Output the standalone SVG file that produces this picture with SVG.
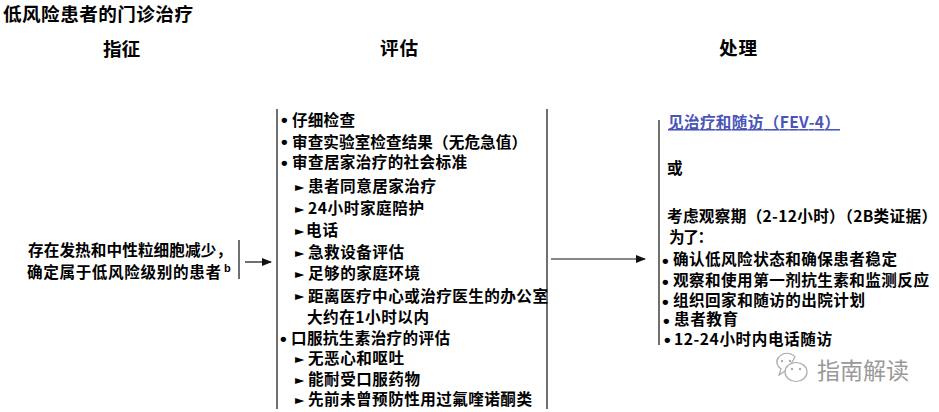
<svg xmlns="http://www.w3.org/2000/svg" width="939" height="412" viewBox="0 0 939 412">
<defs>
<marker id="ah" viewBox="0 0 10 8" refX="9" refY="4" markerWidth="10" markerHeight="8" markerUnits="userSpaceOnUse" orient="auto"><path d="M0 0L10 4L0 8Z" fill="#111"/></marker>
</defs>
<style>
text{font-family:"Noto Sans CJK SC","Liberation Sans",sans-serif;font-weight:700;font-size:15.6px;fill:#000}
.h{font-size:18.6px}
.b{font-family:"Liberation Sans",sans-serif;font-size:19px}
.s{font-family:"DejaVu Sans",sans-serif;font-size:12px;font-weight:400}
.wm{font-weight:400;font-size:23px;fill:#999}
.ln{stroke:#222;stroke-width:1.3;fill:none}
.ar{stroke:#111;stroke-width:1.2;fill:none;marker-end:url(#ah)}
.ic{fill:#fff;stroke:#aaa;stroke-width:1.2}
</style>
<rect width="939" height="412" fill="#fff"/>
<g id="connectors">
<path class="ln" d="M239 240V279"/>
<path class="ar" d="M245 262H271"/>
<path class="ln" d="M277 109V409"/>
<path class="ln" d="M547 109V409"/>
<path class="ar" d="M551 259H645"/>
<path class="ln" d="M659 120V345"/>
</g>
<g id="title"><text class="h" x="3" y="21" textLength="190">低风险患者的门诊治疗</text></g>
<g id="head-indication"><text class="h" x="103" y="56" textLength="37">指征</text></g>
<g id="head-evaluation"><text class="h" x="380" y="55" textLength="38">评估</text></g>
<g id="head-treatment"><text class="h" x="719" y="55" textLength="38">处理</text></g>
<g id="node-indication">
<text x="28" y="256" textLength="204">存在发热和中性粒细胞减少，</text>
<text x="27" y="278" textLength="194">确定属于低风险级别的患者</text>
<text x="224" y="272" style="font-size:11px;font-family:'Liberation Sans',sans-serif">b</text>
</g>
<g id="node-evaluation">
<text class="b" x="281" y="126">•</text><text x="292" y="126" textLength="63">仔细检查</text>
<text class="b" x="281" y="148">•</text><text x="292" y="148" textLength="235">审查实验室检查结果（无危急值）</text>
<text class="b" x="281" y="169">•</text><text x="292" y="168" textLength="175">审查居家治疗的社会标准</text>
<text class="s" x="295" y="191">►</text><text x="308" y="192" textLength="128">患者同意居家治疗</text>
<text class="s" x="295" y="213">►</text><text x="308" y="214" textLength="116">24小时家庭陪护</text>
<text class="s" x="295" y="235">►</text><text x="306" y="236" textLength="32">电话</text>
<text class="s" x="295" y="257">►</text><text x="308" y="258" textLength="96">急救设备评估</text>
<text class="s" x="295" y="278">►</text><text x="308" y="279" textLength="112">足够的家庭环境</text>
<text class="s" x="295" y="300">►</text><text x="308" y="302" textLength="240">距离医疗中心或治疗医生的办公室</text>
<text x="307" y="323" textLength="122">大约在1小时以内</text>
<text class="b" x="280" y="345">•</text><text x="291" y="344" textLength="159">口服抗生素治疗的评估</text>
<text class="s" x="295" y="363">►</text><text x="308" y="364" textLength="96">无恶心和呕吐</text>
<text class="s" x="295" y="384">►</text><text x="308" y="385" textLength="112">能耐受口服药物</text>
<text class="s" x="295" y="404">►</text><text x="308" y="405" textLength="224">先前未曾预防性用过氟喹诺酮类</text>
</g>
<g id="node-treatment">
<text x="668" y="128" textLength="172" style="fill:#4a55b8;text-decoration:underline">见治疗和随访（FEV-4）</text>
<text x="667" y="174">或</text>
<text x="667" y="222" textLength="270">考虑观察期（2-12小时）（2B类证据）</text>
<text x="669" y="243" textLength="44">为了：</text>
<text class="b" x="662" y="267">•</text><text x="673" y="265" textLength="224">确认低风险状态和确保患者稳定</text>
<text class="b" x="662" y="288">•</text><text x="673" y="286" textLength="256">观察和使用第一剂抗生素和监测反应</text>
<text class="b" x="662" y="308">•</text><text x="673" y="306" textLength="192">组织回家和随访的出院计划</text>
<text class="b" x="663" y="327">•</text><text x="674" y="325" textLength="64">患者教育</text>
<text class="b" x="664" y="346">•</text><text x="674" y="345" textLength="158">12-24小时内电话随访</text>
</g>
<g id="watermark">
<path class="ic" d="M779 375L781 369C777 366 775 361 779 357C783 352 791 352 795 357L788 369Z"/>
<ellipse class="ic" cx="796" cy="372" rx="11" ry="9.5"/>
<circle cx="782" cy="361" r="1.2" fill="#aaa"/><circle cx="790" cy="361" r="1.2" fill="#aaa"/>
<circle cx="792" cy="369" r="1.2" fill="#aaa"/><circle cx="800" cy="369" r="1.2" fill="#aaa"/>
<text class="wm" x="817" y="379" textLength="92">指南解读</text>
</g>
</svg>
